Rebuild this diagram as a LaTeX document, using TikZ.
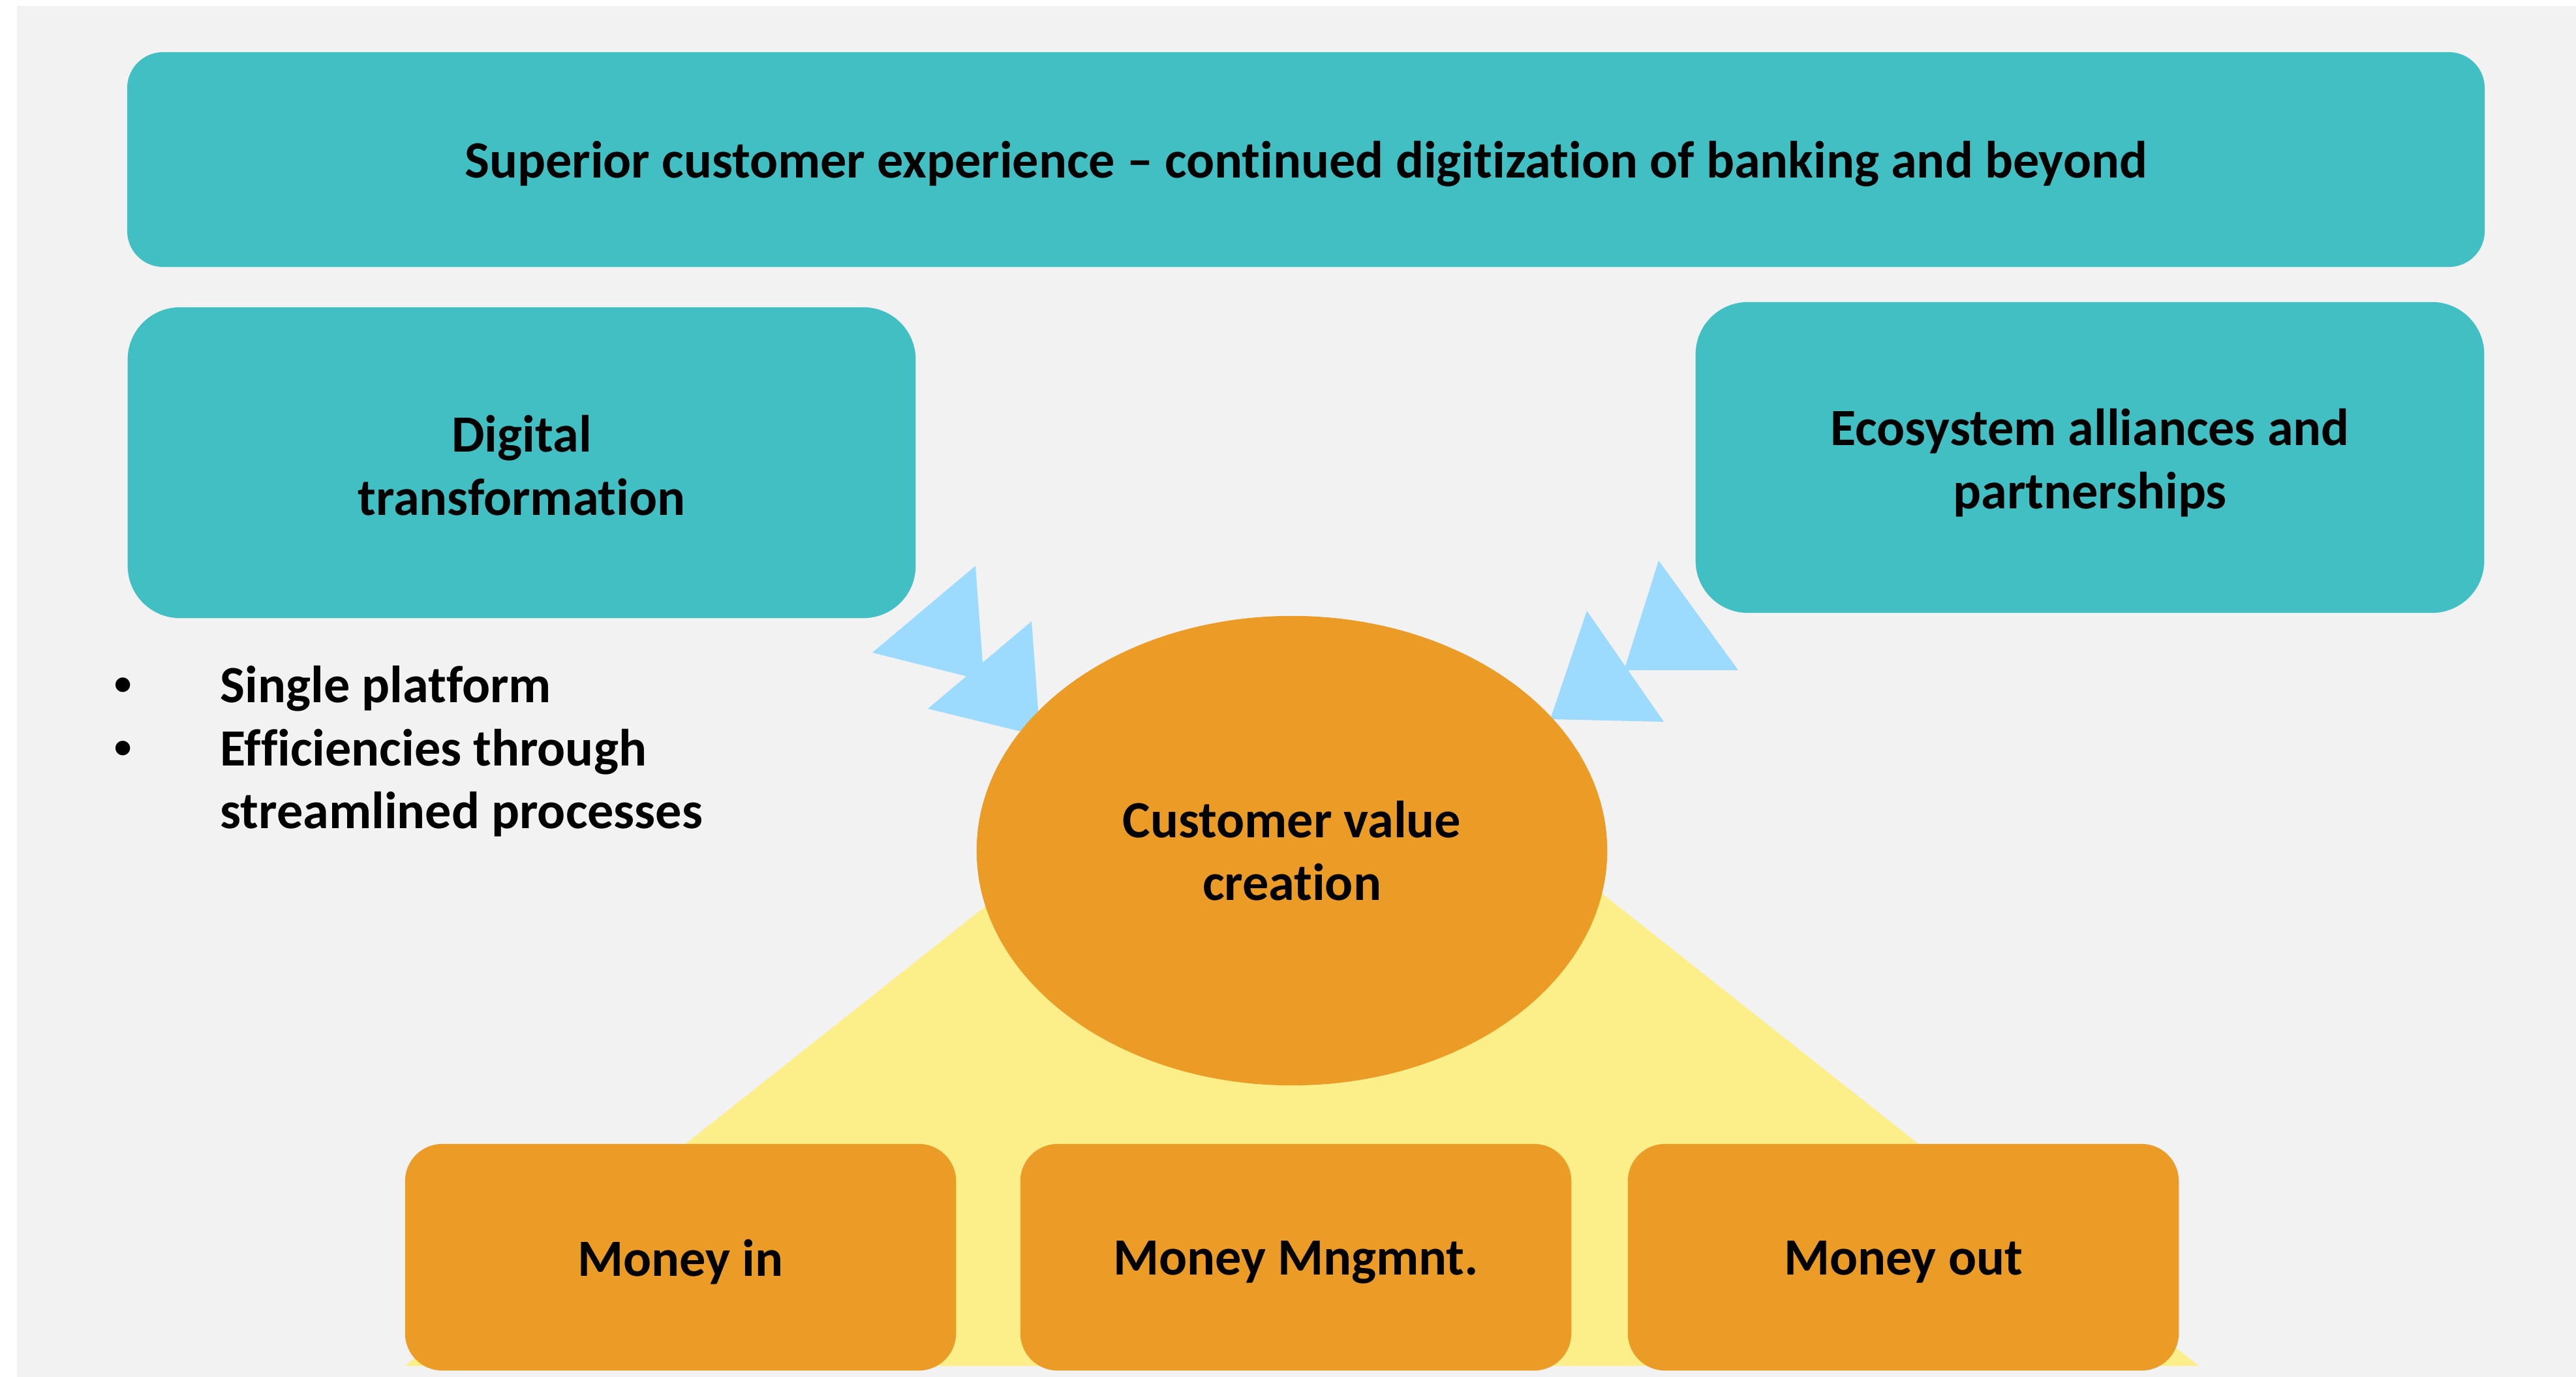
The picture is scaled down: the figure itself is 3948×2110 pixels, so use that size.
\documentclass[tikz,border=0pt]{standalone}
\usepackage{fontspec}
\setmainfont{Carlito}[Ligatures={NoCommon}]
\usetikzlibrary{shapes.geometric}
\definecolor{cbg}{HTML}{F2F2F2}
\definecolor{cteal}{HTML}{41BFC2}
\definecolor{corange}{HTML}{EB9C26}
\definecolor{cyellow}{HTML}{FCEE88}
\definecolor{cblue}{HTML}{9CDBFD}
\begin{document}
\begin{tikzpicture}[x=0.01cm,y=-0.01cm,
  txt/.style={font=\bfseries\fontsize{22.8}{27.4}\selectfont, text=black, align=center, inner sep=0pt},
  bulletdot/.style={font=\bfseries\fontsize{15}{18}\selectfont, text=black, inner sep=0pt},
  tealbox/.style={fill=cteal, draw=none, rounded corners=0.8cm, inner sep=0pt},
  orangebox/.style={fill=corange, draw=none, rounded corners=0.57cm, inner sep=0pt,
    minimum width=8.44cm, minimum height=3.47cm},
  arrowtri/.style={fill=cblue, draw=none}]
\useasboundingbox (0,0) rectangle (3948,2110);
\fill[white] (0,0) rectangle (3948,2110);
\fill[cbg] (26,9) rectangle (3948,2110);

% top banner
\node[tealbox, rounded corners=0.55cm, minimum width=36.11cm, minimum height=3.29cm] (top) at (2001.5,244.5) {};
\node[txt, yshift=-0.07cm] (toptxt) at (top.center)
  {Superior customer experience – continued digitization of banking and beyond};

% side boxes
\node[tealbox, minimum width=12.07cm, minimum height=4.76cm] (digital) at (799.5,709) {};
\node[txt, yshift=-0.04cm] (digitaltxt) at (digital.center) {Digital\\transformation};
\node[tealbox, minimum width=12.08cm, minimum height=4.76cm] (eco) at (3203,701) {};
\node[txt, yshift=-0.08cm] (ecotxt) at (eco.center) {Ecosystem alliances and\\partnerships};

% bullets
\node[bulletdot] (b1) at (189,1052) {•};
\node[bulletdot] (b2) at (189,1149) {•};
\node[txt, anchor=north west, align=left] (bullets) at (337,1020)
  {Single platform\\Efficiencies through\\streamlined processes};

% yellow triangle
\fill[cyellow] (621,2093) -- (1995,1005) -- (3370,2093) -- cycle;

% arrows (left)
\fill[arrowtri] (1337,1000) -- (1495,867) -- (1508,1043) -- cycle;
\fill[arrowtri] (1422,1086) -- (1581,952) -- (1594,1128) -- cycle;
% arrows (right)
\fill[arrowtri] (2542,859) -- (2664,1027) -- (2489,1027) -- cycle;
\fill[arrowtri] (2432,936) -- (2550,1106) -- (2376,1102) -- cycle;

% ellipse
\node[ellipse, fill=corange, draw=none, minimum width=9.66cm, minimum height=7.19cm, inner sep=0pt]
  (cvc) at (1980,1303.5) {};
\node[txt] (cvctxt) at (cvc.center) {Customer value\\creation};

% bottom boxes
\node[orangebox] (min) at (1043,1926.5) {};
\node[txt, yshift=-0.075cm] (mintxt) at (min.center) {Money in};
\node[orangebox] (mmg) at (1986,1926.5) {};
\node[txt, yshift=-0.075cm] (mmgtxt) at (mmg.center) {Money Mngmnt.};
\node[orangebox] (mout) at (2917,1926.5) {};
\node[txt, yshift=-0.075cm] (mouttxt) at (mout.center) {Money out};
\end{tikzpicture}
\end{document}
